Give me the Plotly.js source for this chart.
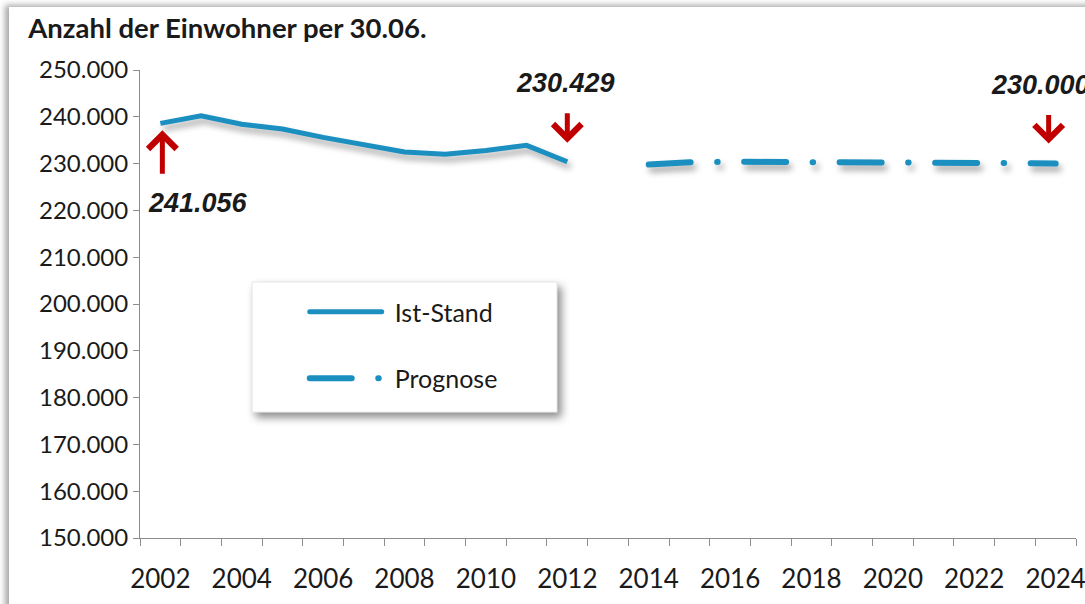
<!DOCTYPE html>
<html>
<head>
<meta charset="utf-8">
<script src="https://cdn.plot.ly/plotly-3.0.1.min.js"></script>
<style>
  body { margin: 0; background: #ffffff; overflow: hidden; }
  #frame {
    position: absolute; left: 9px; top: 7px; width: 1100px; height: 620px;
    background: #ffffff; box-shadow: -4px -2px 6px rgba(0,0,0,0.35);
  }
  #plot { position: absolute; left: 0; top: 0; width: 1085px; height: 604px; }
  .scatterlayer .js-line { filter: drop-shadow(3px 5px 3px rgba(0,0,0,0.35)); }
  .scatterlayer .trace:nth-child(2) .js-line { stroke-linecap: round; }
  .legendlines path { stroke-linecap: round; }
  .shapelayer path { filter: drop-shadow(4px 5px 4px rgba(0,0,0,0.45)); }
</style>
</head>
<body>
<div id="frame"></div>
<div id="plot"></div>
<script>
  // Ist-Stand (actual population, 30.06.)
  var istYears = [2002, 2003, 2004, 2005, 2006, 2007, 2008, 2009, 2010, 2011, 2012];
  var istValues = [238600, 240200, 238400, 237400, 235600, 234000, 232500, 232000, 232800, 233900, 230400];

  // Prognose (forecast)
  var progYears = [2014, 2015, 2016, 2017, 2018, 2019, 2020, 2021, 2022, 2023, 2024];
  var progValues = [229800, 230300, 230400, 230400, 230400, 230300, 230300, 230200, 230200, 230100, 230000];

  // x tick labels
  var tickYears = [2002, 2004, 2006, 2008, 2010, 2012, 2014, 2016, 2018, 2020, 2022, 2024];

  // callout labels
  var calloutLabels = ["241.056", "230.429", "230.000"];

  var blue = "#1a8fc0";
  var red = "#c00000";

  var trace1 = {
    x: istYears,
    y: istValues,
    name: "Ist-Stand",
    legendgroup: "a",
    type: "scatter",
    mode: "lines",
    line: { color: blue, width: 5 },
    hoverinfo: "skip"
  };

  var trace2 = {
    x: progYears,
    y: progValues,
    name: "Prognose",
    legendgroup: "b",
    type: "scatter",
    mode: "lines",
    line: { color: blue, width: 6, dash: "42px,26.5px,0.5px,26.5px" },
    hoverinfo: "skip"
  };

  var labelFont = { family: "Liberation Sans, Arial", size: 27, color: "#1a1a1a", weight: "bold", style: "italic" };

  function arrow(x, y, ay, standoff, xshift) {
    return {
      x: x, y: y, xref: "x", yref: "y", text: "",
      showarrow: true, arrowhead: 4, arrowsize: 1.1, arrowwidth: 5,
      arrowcolor: red, ax: 0, ay: ay, standoff: standoff, xshift: xshift
    };
  }

  var annotations = [
    arrow(istYears[0], istValues[0], 52, 7, 2),
    arrow(istYears[10], istValues[10], -50, 19, 0),
    arrow(progYears[10], progValues[10], -50, 20, -7),
    {
      x: istYears[0], y: istValues[0], xref: "x", yref: "y",
      text: calloutLabels[0], showarrow: false, font: labelFont,
      xanchor: "center", yanchor: "middle", xshift: 38, yshift: -80
    },
    {
      x: istYears[10], y: istValues[10], xref: "x", yref: "y",
      text: calloutLabels[1], showarrow: false, font: labelFont,
      xanchor: "center", yanchor: "middle", xshift: -2, yshift: 79
    },
    {
      x: progYears[10], y: progValues[10], xref: "x", yref: "y",
      text: calloutLabels[2], showarrow: false, font: labelFont,
      xanchor: "left", yanchor: "middle", xshift: -67, yshift: 79
    }
  ];

  var layout = {
    width: 1085,
    height: 604,
    margin: { l: 140, r: 9, t: 70, b: 66 },
    paper_bgcolor: "rgba(0,0,0,0)",
    plot_bgcolor: "rgba(0,0,0,0)",
    separators: ",.",
    font: { family: "Lato, Noto Sans, sans-serif", color: "#1a1a1a" },
    title: {
      text: "<b>Anzahl der Einwohner per 30.06.</b>",
      font: { family: "Lato, Noto Sans, sans-serif", size: 27.5, color: "#1a1a1a" },
      xref: "container", yref: "container",
      x: 0.026, xanchor: "left", y: 0.953, yanchor: "middle"
    },
    xaxis: {
      range: [2001.5, 2024.5],
      tickvals: tickYears,
      ticktext: tickYears.map(String),
      ticks: "",
      ticklabelstandoff: 18,
      ticklabeloverflow: "allow",
      showgrid: false,
      zeroline: false,
      showline: true,
      linecolor: "#8c8c8c",
      linewidth: 1,
      tickfont: { family: "Lato, Noto Sans, sans-serif", size: 26, color: "#1a1a1a" },
      minor: { tick0: 2001.5, dtick: 1, ticks: "outside", ticklen: 7, tickcolor: "#8c8c8c", showgrid: false }
    },
    yaxis: {
      range: [150000, 250000],
      dtick: 10000,
      tickformat: ",d",
      ticks: "outside",
      ticklen: 6,
      tickcolor: "#8c8c8c",
      showgrid: false,
      zeroline: false,
      showline: true,
      linecolor: "#8c8c8c",
      linewidth: 1,
      tickfont: { family: "Lato, Noto Sans, sans-serif", size: 24, color: "#1a1a1a" }
    },
    showlegend: true,
    legend: {
      x: 0.176, y: 0.532, xanchor: "left", yanchor: "top",
      bgcolor: "rgba(0,0,0,0)",
      borderwidth: 0,
      itemwidth: 80,
      tracegroupgap: 31,
      traceorder: "grouped",
      font: { family: "Lato, Noto Sans, sans-serif", size: 25, color: "#1a1a1a" }
    },
    shapes: [{
      type: "rect", xref: "paper", yref: "paper",
      x0: 0.1197, x1: 0.4455, y0: 0.269, y1: 0.547,
      fillcolor: "#ffffff", line: { color: "#e6e6e6", width: 1 },
      layer: "below"
    }],
    annotations: annotations
  };

  Plotly.newPlot("plot", [trace1, trace2], layout, { displayModeBar: false, staticPlot: true }).then(function () {
    // longer legend line samples, like the original
    document.querySelectorAll(".legendlines path").forEach(function (p) {
      p.setAttribute("d", "M5,0h72");
    });
  });
</script>
</body>
</html>
